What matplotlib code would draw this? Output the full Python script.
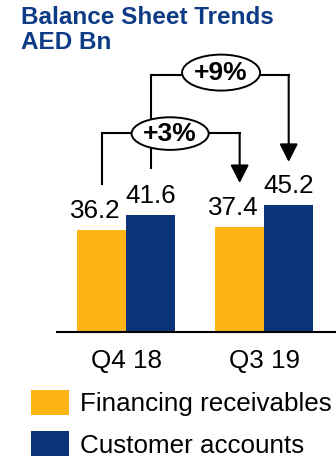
import matplotlib
matplotlib.use("Agg")
import matplotlib.pyplot as plt
from matplotlib.patches import Ellipse, Patch
import numpy as np

plt.rcParams['font.family'] = ['Liberation Sans', 'DejaVu Sans']

# balance sheet data, AED bn
periods = ["Q4 18", "Q3 19"]
receivables = [36.2, 37.4]
accounts = [41.6, 45.2]
series_names = ["Financing receivables", "Customer accounts"]
growth_labels = ["+3%", "+9%"]

yellow = "#FDB515"
navy = "#0B3478"
title_col = "#0D3C85"

fig = plt.figure(figsize=(3.36, 4.59), dpi=100)
ax = fig.add_axes([57 / 336, 127 / 459, 279 / 336, 292 / 459])

x = np.arange(len(periods))
w = 0.355
b1 = ax.bar(x - w / 2, receivables, w, color=yellow)
b2 = ax.bar(x + w / 2, accounts, w, color=navy)

# value labels (yellow ones nudged left so they clear the blue ones)
for xi, v in zip(x - w / 2, receivables):
    ax.annotate(f"{v:.1f}", (xi, v), xytext=(-4.5, 8.5), textcoords="offset points",
                ha="center", va="baseline", fontsize=18.7)
for xi, v in zip(x + w / 2, accounts):
    ax.annotate(f"{v:.1f}", (xi, v), xytext=(0, 8.5), textcoords="offset points",
                ha="center", va="baseline", fontsize=18.7)

ax.set_xlim(-0.5, 1.52)
ax.set_ylim(0, 103.9)
ax.set_xticks(x)
ax.set_xticklabels(periods, fontsize=18.7)
ax.tick_params(axis="x", length=0, pad=12)
ax.set_yticks([])
for s in ["top", "right", "left"]:
    ax.spines[s].set_visible(False)
ax.spines["bottom"].set_linewidth(1.5)


def bracket(x0, x1, y_top, y_start, y_tip, label, ex, ey, ew, eh):
    ax.plot([x0, x0, x1], [y_start, y_top, y_top], color="black", lw=1.5,
            solid_joinstyle="miter", zorder=3)
    ax.annotate("", xy=(x1, y_tip), xytext=(x1, y_top),
                arrowprops=dict(arrowstyle="-|>,head_length=0.55,head_width=0.28",
                                mutation_scale=20, color="black", lw=1.5,
                                shrinkA=0, shrinkB=0), zorder=3)
    ax.add_patch(Ellipse((ex, ey), ew, eh, facecolor="white", edgecolor="black",
                         lw=1.4, zorder=4))
    ax.text(ex, ey - 0.3, label, ha="center", va="center", fontsize=19,
            fontweight="bold", zorder=5)


# +9%: Q4 18 accounts -> Q3 19 accounts
bracket(x[0] + w / 2, x[1] + w / 2, 91.5, 58.4, 60.5, growth_labels[1],
        0.688, 92.3, 0.565, 12.8)
# +3%: Q4 18 receivables -> Q3 19 receivables
bracket(x[0] - w / 2, x[1] - w / 2, 70.8, 52.7, 53.0, growth_labels[0],
        0.319, 70.6, 0.558, 11.6)

fig.text(21 / 336, 1 - 6 / 459, "Balance Sheet Trends", ha="left", va="top",
         fontsize=17.5, fontweight="bold", color=title_col)
fig.text(21 / 336, 1 - 31 / 459, "AED Bn", ha="left", va="top",
         fontsize=17.5, fontweight="bold", color=title_col)

handles = [Patch(facecolor=yellow), Patch(facecolor=navy)]
fig.legend(handles, series_names, loc="upper left",
           bbox_to_anchor=(31 / 336, 1 - 390 / 459), frameon=False,
           fontsize=18.7, handlelength=1.46, handleheight=1.1,
           handletextpad=0.42, labelspacing=0.58, borderpad=0, borderaxespad=0)

fig.savefig("out.png", dpi=100)
